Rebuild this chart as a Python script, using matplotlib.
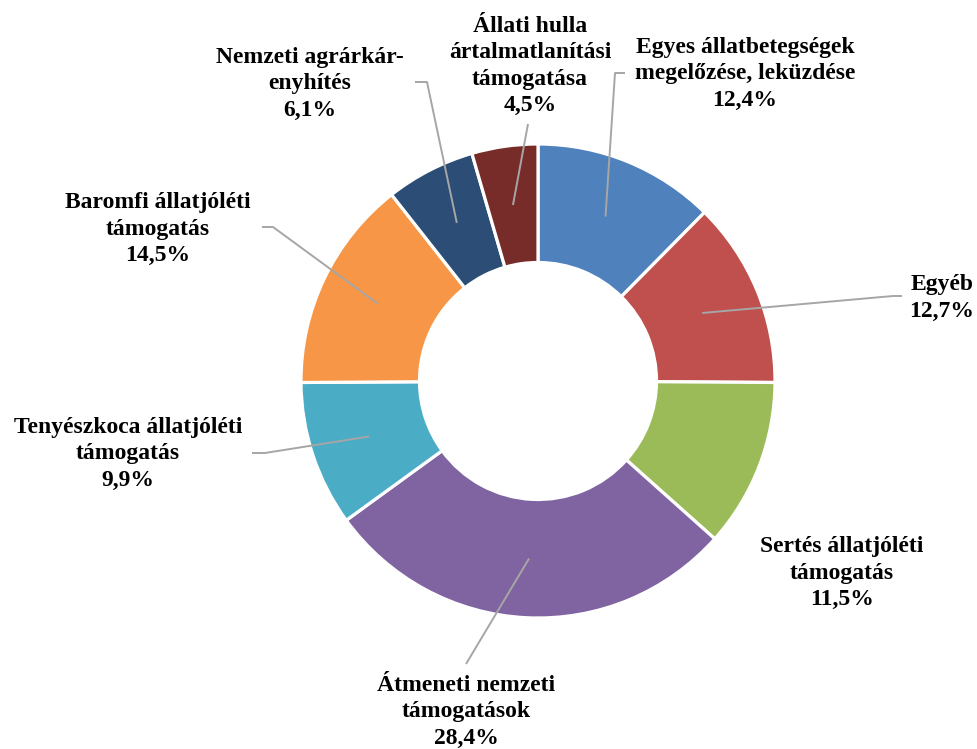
import numpy as np
import matplotlib
matplotlib.use("Agg")
import matplotlib.pyplot as plt

plt.rcParams['font.family'] = ['Liberation Serif', 'DejaVu Serif']

# data, clockwise from 12 o'clock
categories = ['Egyes állatbetegségek\nmegelőzése, leküzdése',
              'Egyéb',
              'Sertés állatjóléti\ntámogatás',
              'Átmeneti nemzeti\ntámogatások',
              'Tenyészkoca állatjóléti\ntámogatás',
              'Baromfi állatjóléti\ntámogatás',
              'Nemzeti agrárkár-\nenyhítés',
              'Állati hulla\nártalmatlanítási\ntámogatása']
shares = [12.4, 12.7, 11.5, 28.4, 9.9, 14.5, 6.1, 4.5]
colors = ['#4F81BD', '#C0504D', '#9BBB59', '#8064A2',
          '#4BACC6', '#F79646', '#2C4D75', '#772C2A']

W, H = 978, 749
fig = plt.figure(figsize=(W / 100, H / 100), dpi=100)
ax = fig.add_axes([0, 0, 1, 1])
ax.axis('off')

cx, cy = 538, H - 381
R = 237
wedges, _ = ax.pie(shares, colors=colors, startangle=90, counterclock=False,
                   radius=R, center=(cx, cy),
                   wedgeprops=dict(width=R * 0.5, edgecolor='white', linewidth=2.3))
ax.set_xlim(0, W)
ax.set_ylim(0, H)

# label layout (image pixel coords): text centre, leader end, hook end
layout = [
    dict(txt=(745, 74), end=(615, 73), hook=(625, 73)),
    dict(txt=(942, 298), end=(893, 296), hook=(902, 296)),
    dict(txt=(842, 573), end=None, hook=None),
    dict(txt=(466, 712), end=(466, 664), hook=None),
    dict(txt=(128, 454), end=(265, 453), hook=(252, 453)),
    dict(txt=(158, 229), end=(273, 227), hook=(262, 227)),
    dict(txt=(310, 84), end=(427, 82), hook=(415, 82)),
    dict(txt=(530, 66), end=(528, 124), hook=None),
]

line_col = '#A6A6A6'
for w, name, v, lay in zip(wedges, categories, shares, layout):
    ang = np.deg2rad((w.theta1 + w.theta2) / 2)
    r = R * 0.75
    x0, y0 = cx + r * np.cos(ang), cy + r * np.sin(ang)
    if lay['end'] is not None:
        ex, ey = lay['end']
        xs, ys = [x0, ex], [y0, H - ey]
        if lay['hook'] is not None:
            xs.append(lay['hook'][0])
            ys.append(H - lay['hook'][1])
        ax.plot(xs, ys, color=line_col, lw=1.4, solid_capstyle='butt')
    label = name + '\n' + f"{v:.1f}%".replace('.', ',')
    tx, ty = lay['txt']
    ax.text(tx, H - ty, label, ha='center', va='center', fontsize=17,
            fontweight='bold', linespacing=1.32, color='black')

fig.savefig('out.png', dpi=100)
